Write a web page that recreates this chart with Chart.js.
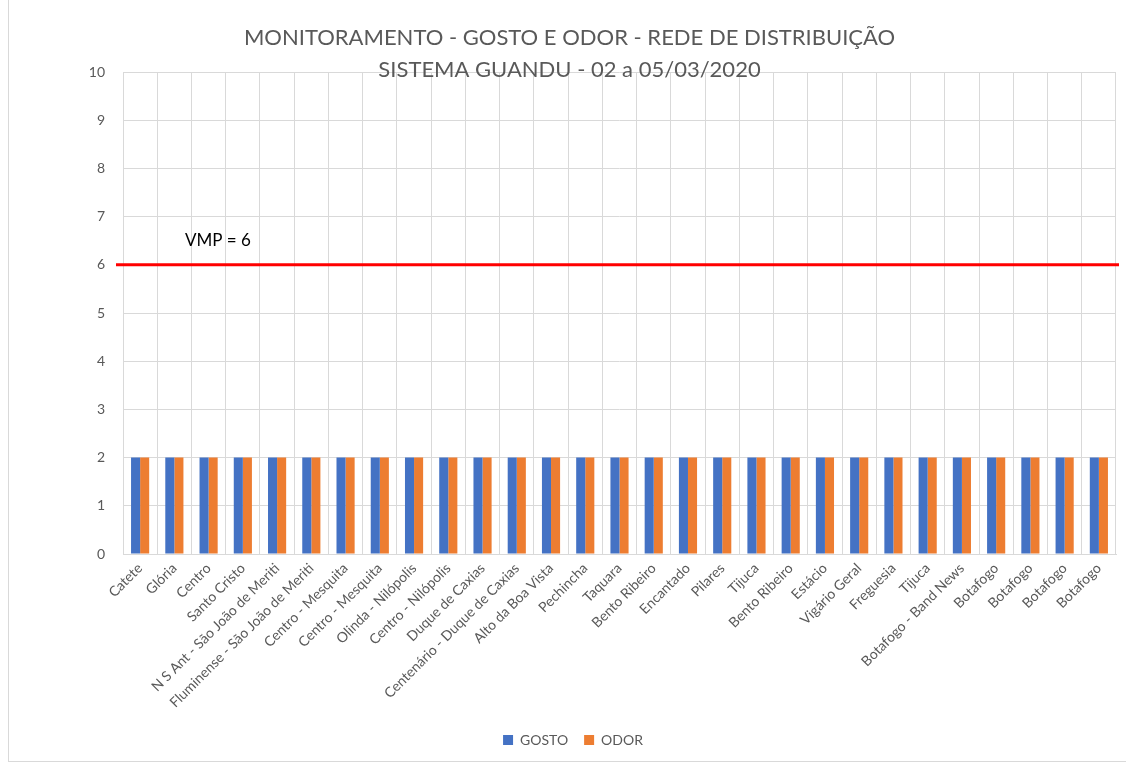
<!DOCTYPE html>
<html>
<head>
<meta charset="utf-8">
<script src="https://cdn.jsdelivr.net/npm/chart.js@4/dist/chart.umd.min.js"></script>
<style>
    html, body { margin: 0; padding: 0; background: #fff; }
    #frame { position: absolute; left: 8px; top: 0; width: 1117px; height: 761px; border-left: 1px solid #d9d9d9; border-bottom: 1px solid #d9d9d9; }
    #wrap { position: absolute; left: 0; top: 0; width: 1126px; height: 762px; }
</style>
</head>
<body>
<div id="frame"></div>
<div id="wrap"><canvas id="chart"></canvas></div>
<script>
// ── data ──
const TITLE_LINES = [
    'MONITORAMENTO - GOSTO E ODOR - REDE DE DISTRIBUIÇÃO',
    'SISTEMA GUANDU - 02 a 05/03/2020',
];
const locais = [
    'Catete', 'Glória', 'Centro', 'Santo Cristo',
    'N S Ant - São João de Meriti', 'Fluminense - São João de Meriti',
    'Centro - Mesquita', 'Centro - Mesquita', 'Olinda - Nilópolis',
    'Centro - Nilópolis', 'Duque de Caxias', 'Centenário - Duque de Caxias',
    'Alto da Boa Vista', 'Pechincha', 'Taquara', 'Bento Ribeiro',
    'Encantado', 'Pilares', 'Tijuca', 'Bento Ribeiro', 'Estácio',
    'Vigário Geral', 'Freguesia', 'Tijuca', 'Botafogo - Band News',
    'Botafogo', 'Botafogo', 'Botafogo', 'Botafogo',
];
const gosto = [2, 2, 2, 2, 2, 2, 2, 2, 2, 2, 2, 2, 2, 2, 2, 2, 2, 2, 2, 2, 2, 2, 2, 2, 2, 2, 2, 2, 2];
const odor  = [2, 2, 2, 2, 2, 2, 2, 2, 2, 2, 2, 2, 2, 2, 2, 2, 2, 2, 2, 2, 2, 2, 2, 2, 2, 2, 2, 2, 2];
const VMP = 6;
const Y_MIN = 0, Y_MAX = 10, Y_STEP = 1;

const COLORS = {
    gosto: '#4472C4',
    odor: '#ED7D31',
    vmp: '#FF0000',
    grid: '#D9D9D9',
    text: '#595959',
};
const FONT = "Lato, 'Open Sans', sans-serif";

// title drawn by hand so the second line can sit on the plot top, as in Excel
const titlePlugin = {
    id: 'excelTitle',
    afterDraw(chart) {
        const { ctx, chartArea } = chart;
        const cx = (chartArea.left + chartArea.right) / 2 - 50;
        ctx.save();
        ctx.fillStyle = COLORS.text;
        ctx.font = `22px ${FONT}`;
        ctx.textAlign = 'center';
        ctx.textBaseline = 'middle';
        ctx.fillText(TITLE_LINES[0], cx, 38);
        ctx.fillText(TITLE_LINES[1], cx, 70);
        ctx.restore();
    },
};

// VMP reference line + label
const vmpPlugin = {
    id: 'vmpLine',
    afterDatasetsDraw(chart) {
        const { ctx, chartArea, scales } = chart;
        const y = scales.y.getPixelForValue(VMP);
        ctx.save();
        ctx.strokeStyle = COLORS.vmp;
        ctx.lineWidth = 3;
        ctx.beginPath();
        ctx.moveTo(chartArea.left - 7, y);
        ctx.lineTo(chartArea.right + 3, y);
        ctx.stroke();
        ctx.fillStyle = '#000';
        ctx.font = `17px ${FONT}`;
        ctx.textAlign = 'left';
        ctx.textBaseline = 'alphabetic';
        ctx.fillText(`VMP = ${VMP}`, chartArea.left + 62, y - 19);
        ctx.restore();
    },
};

new Chart(document.getElementById('chart'), {
    type: 'bar',
    data: {
        labels: locais,
        datasets: [
            { label: 'GOSTO', data: gosto, backgroundColor: COLORS.gosto },
            { label: 'ODOR', data: odor, backgroundColor: COLORS.odor },
        ],
    },
    options: {
        responsive: true,
        maintainAspectRatio: false,
        animation: false,
        datasets: { bar: { categoryPercentage: 0.53, barPercentage: 1 } },
        layout: { padding: { top: 72, left: 30, right: 10, bottom: 5 } },
        plugins: {
            title: { display: false },
            tooltip: { enabled: false },
            legend: {
                position: 'bottom',
                labels: {
                    color: COLORS.text,
                    font: { family: FONT, size: 14 },
                    boxWidth: 10,
                    boxHeight: 10,
                    padding: 16,
                },
            },
        },
        scales: {
            x: {
                grid: { color: COLORS.grid, offset: true, drawTicks: false },
                border: { color: COLORS.grid },
                ticks: {
                    color: COLORS.text,
                    font: { family: FONT, size: 14 },
                    minRotation: 45,
                    maxRotation: 45,
                    autoSkip: false,
                    padding: 6,
                },
            },
            y: {
                min: Y_MIN,
                max: Y_MAX,
                grid: { color: COLORS.grid, drawTicks: false },
                border: { display: false },
                afterFit: (scale) => { scale.width = 93; },
                ticks: {
                    stepSize: Y_STEP,
                    color: COLORS.text,
                    font: { family: FONT, size: 14 },
                    padding: 18,
                },
            },
        },
    },
    plugins: [titlePlugin, vmpPlugin],
});
</script>
</body>
</html>
